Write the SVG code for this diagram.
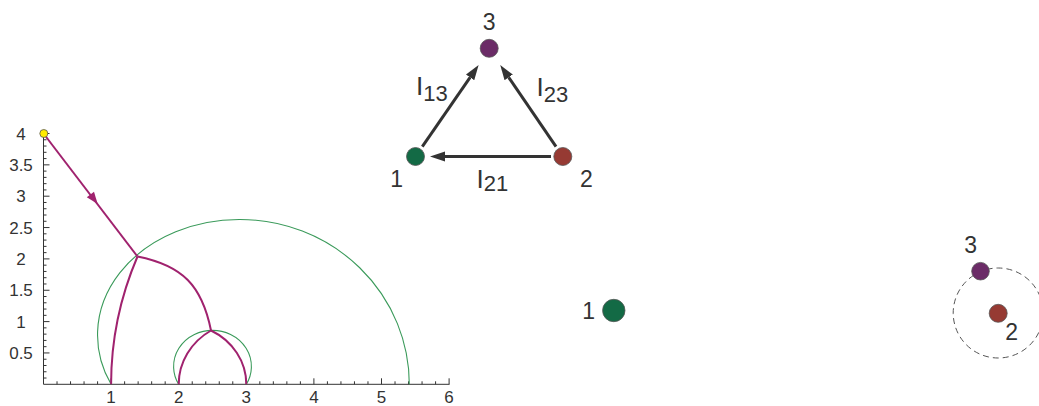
<svg xmlns="http://www.w3.org/2000/svg" width="1039" height="406" viewBox="0 0 1039 406">
<defs>
<style>
text{font-family:"Liberation Sans",Arial,sans-serif;fill:#333}
.tick{font-size:17px;text-anchor:middle}
.lbl{font-size:23px;text-anchor:middle}
.axis{stroke:#333;stroke-width:1;fill:none}
.geo{stroke:#a0226e;stroke-width:2;fill:none}
.bound{stroke:#3a9a5a;stroke-width:1.1;fill:none}
.edge{stroke:#333;stroke-width:3;fill:none;marker-end:url(#ah)}
.n1{fill:#136a45;stroke:#555;stroke-width:0.8}
.n2{fill:#963a33;stroke:#555;stroke-width:0.8}
.n3{fill:#6b2c67;stroke:#555;stroke-width:0.8}
.I{font-size:26px}
.sub{font-size:22px}
</style>
<marker id="ah" markerUnits="userSpaceOnUse" markerWidth="18" markerHeight="12" refX="0" refY="6" orient="auto">
<path d="M0,1 L15,6 L0,11 Z" fill="#333"/>
</marker>
</defs>

<g id="plot">
<g id="axes">
<path class="axis" d="M43.5,384.3H449.5M43.5,384.3V133.5"/>
<path class="axis" d="M43.5,378.03h3M43.5,371.76h3M43.5,365.49h3M43.5,359.22h3M43.5,352.95h6M43.5,346.68h3M43.5,340.41h3M43.5,334.14h3M43.5,327.87h3M43.5,321.6h6M43.5,315.33h3M43.5,309.06h3M43.5,302.79h3M43.5,296.52h3M43.5,290.25h6M43.5,283.98h3M43.5,277.71h3M43.5,271.44h3M43.5,265.17h3M43.5,258.9h6M43.5,252.63h3M43.5,246.36h3M43.5,240.09h3M43.5,233.82h3M43.5,227.55h6M43.5,221.28h3M43.5,215.01h3M43.5,208.74h3M43.5,202.47h3M43.5,196.2h6M43.5,189.93h3M43.5,183.66h3M43.5,177.39h3M43.5,171.12h3M43.5,164.85h6M43.5,158.58h3M43.5,152.31h3M43.5,146.04h3M43.5,139.77h3M43.5,133.5h6"/>
<path class="axis" d="M57.02,384.3v-3M70.54,384.3v-3M84.06,384.3v-3M97.58,384.3v-3M111.1,384.3v-6M124.62,384.3v-3M138.14,384.3v-3M151.66,384.3v-3M165.18,384.3v-3M178.7,384.3v-6M192.22,384.3v-3M205.74,384.3v-3M219.26,384.3v-3M232.78,384.3v-3M246.3,384.3v-6M259.82,384.3v-3M273.34,384.3v-3M286.86,384.3v-3M300.38,384.3v-3M313.9,384.3v-6M327.42,384.3v-3M340.94,384.3v-3M354.46,384.3v-3M367.98,384.3v-3M381.5,384.3v-6M395.02,384.3v-3M408.54,384.3v-3M422.06,384.3v-3M435.58,384.3v-3M449.1,384.3v-6"/>
<text class="tick" x="21" y="140">4</text>
<text class="tick" x="21" y="171">3.5</text>
<text class="tick" x="21" y="202.2">3</text>
<text class="tick" x="21" y="233.5">2.5</text>
<text class="tick" x="21" y="264.9">2</text>
<text class="tick" x="21" y="296.2">1.5</text>
<text class="tick" x="21" y="327.6">1</text>
<text class="tick" x="21" y="359">0.5</text>
<text class="tick" x="111.1" y="403">1</text>
<text class="tick" x="178.7" y="403">2</text>
<text class="tick" x="246.3" y="403">3</text>
<text class="tick" x="313.9" y="403">4</text>
<text class="tick" x="381.5" y="403">5</text>
<text class="tick" x="449.1" y="403">6</text>
</g>
<g id="boundaries">
<path class="bound" d="M111.1,384.3 A141.7,115.5 0 0 1 240,219.5 A169.3,164.8 0 0 1 409.3,384.3"/>
<path class="bound" d="M178.7,384.3 A38.9,36.1 0 1 1 246.3,384.3"/>
</g>
<g id="trajectory">
<path class="geo" d="M43.5,133.5 L137.5,256.5"/>
<polygon points="97.7,204 94,191.8 86.8,197.3" fill="#a0226e"/>
<path class="geo" d="M137.5,256.5 A372.7,345.7 0 0 0 111.1,384.3"/>
<path class="geo" d="M137.5,256.5 C182.5,265.5 202,285.5 211,330.5"/>
<path class="geo" d="M211,330.5 A68.1,63.2 0 0 0 178.7,384.3"/>
<path class="geo" d="M211,330.5 A65.3,60.6 0 0 1 246.3,384.3"/>
<circle cx="43.8" cy="133.5" r="4" fill="#ffec00" stroke="#555" stroke-width="0.8"/>
</g>
</g>

<g id="connectors">
<line class="edge" x1="422.3" y1="146.6" x2="470.1" y2="77.4"/>
<line class="edge" x1="556" y1="146.6" x2="508.7" y2="77.4"/>
<line class="edge" x1="551" y1="156.5" x2="445" y2="156.5"/>
</g>
<g id="edge-labels">
<text x="416" y="95"><tspan class="I">I</tspan><tspan class="sub" dy="6">13</tspan></text>
<text x="536.5" y="96"><tspan class="I">I</tspan><tspan class="sub" dy="6">23</tspan></text>
<text x="476.5" y="188"><tspan class="I">I</tspan><tspan class="sub" dy="3">21</tspan></text>
</g>
<g id="tri-node1"><circle class="n1" cx="415.5" cy="156.5" r="9"/><text class="lbl" x="396.7" y="187">1</text></g>
<g id="tri-node2"><circle class="n2" cx="562.8" cy="156.5" r="9"/><text class="lbl" x="586.3" y="187">2</text></g>
<g id="tri-node3"><circle class="n3" cx="489.2" cy="48.3" r="9"/><text class="lbl" x="489.2" y="30">3</text></g>

<g id="config-node1"><circle class="n1" cx="613.8" cy="310.5" r="11.2"/><text class="lbl" x="588.7" y="319">1</text></g>
<g id="config-orbit"><circle cx="998.2" cy="313" r="45" fill="none" stroke="#555" stroke-width="1" stroke-dasharray="6,4"/></g>
<g id="config-node3"><circle class="n3" cx="980.5" cy="271.2" r="8.8"/><text class="lbl" x="970.7" y="253">3</text></g>
<g id="config-node2"><circle class="n2" cx="998.2" cy="313.3" r="9"/><text class="lbl" x="1011.7" y="340">2</text></g>
</svg>
